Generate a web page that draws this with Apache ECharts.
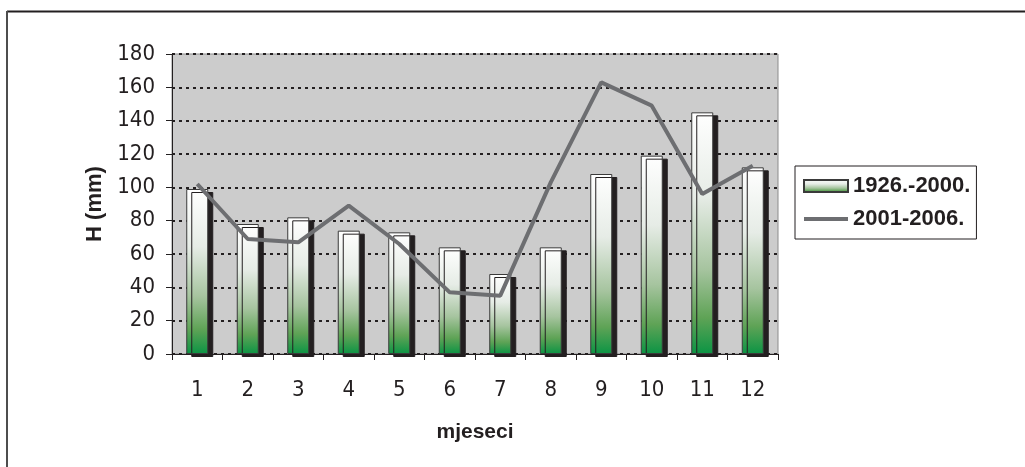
<!DOCTYPE html>
<html>
<head>
<meta charset="utf-8">
<script src="https://cdn.jsdelivr.net/npm/echarts@6/dist/echarts.min.js"></script>
<style>
html,body{margin:0;padding:0;background:#fff;}
#chart{width:1025px;height:467px;}
</style>
</head>
<body>
<div id="chart"></div>
<script>
const months = ['1','2','3','4','5','6','7','8','9','10','11','12'];
const series1926 = [99, 78, 82, 74, 73, 64, 48, 64, 108, 119, 145, 112];
const series2001 = [102, 69, 67, 89, 66, 37, 35, 103, 163, 149, 96, 113];
const yTicks = [0, 20, 40, 60, 80, 100, 120, 140, 160, 180];
const name1 = '1926.-2000.';
const name2 = '2001-2006.';

const narrow = "'Liberation Sans Narrow','Arial Narrow','DejaVu Sans Condensed',sans-serif";
const bold = "'Liberation Sans',Arial,sans-serif";

const chart = echarts.init(document.getElementById('chart'), null, {renderer: 'canvas'});
chart.setOption({
  animation: false,
  backgroundColor: '#ffffff',
  graphic: [
    {type: 'line', shape: {x1: 7, y1: 11.5, x2: 1025, y2: 11.5}, style: {stroke: '#231f20', lineWidth: 2}, z: 100},
    {type: 'line', shape: {x1: 7, y1: 11, x2: 7, y2: 467}, style: {stroke: '#4d4d4d', lineWidth: 2}, z: 100}
  ],
  grid: {
    left: 172, right: 247, top: 54, bottom: 113,
    show: true, backgroundColor: '#cccccc', borderColor: '#8c8c8c', borderWidth: 1
  },
  legend: {
    orient: 'vertical',
    left: 795, top: 166,
    padding: [9, 6, 9, 8],
    itemGap: 11,
    itemWidth: 44, itemHeight: 12,
    borderColor: '#231f20', borderWidth: 1,
    backgroundColor: '#ffffff',
    textStyle: {fontFamily: bold, fontWeight: 'bold', fontSize: 22, color: '#231f20'},
    data: [
      {name: name1, icon: 'rect'},
      {name: name2, icon: 'path://M0,4 L44,4 L44,8 L0,8 Z'}
    ]
  },
  xAxis: {
    type: 'category',
    data: months,
    name: 'mjeseci',
    nameLocation: 'middle',
    nameGap: 68,
    nameTextStyle: {fontFamily: bold, fontWeight: 'bold', fontSize: 21, color: '#231f20'},
    boundaryGap: true,
    axisLine: {lineStyle: {color: '#231f20', width: 1}},
    axisTick: {show: true, length: 6, alignWithLabel: false, lineStyle: {color: '#231f20'}},
    axisLabel: {fontFamily: narrow, fontSize: 22, color: '#231f20', margin: 25}
  },
  yAxis: {
    type: 'value',
    min: 0, max: 180, interval: 20,
    name: 'H (mm)',
    nameLocation: 'middle',
    nameGap: 64,
    nameRotate: 90,
    nameTextStyle: {fontFamily: bold, fontWeight: 'bold', fontSize: 22, color: '#231f20'},
    axisLine: {show: true, lineStyle: {color: '#231f20', width: 1}},
    axisTick: {show: true, length: 6, lineStyle: {color: '#231f20'}},
    axisLabel: {
      fontFamily: narrow, fontSize: 22, color: '#231f20', margin: 17,
      formatter: v => yTicks.includes(v) ? String(v) : ''
    },
    splitLine: {show: true, lineStyle: {color: '#231f20', width: 2, type: [3, 4]}}
  },
  series: [
    {
      name: name1,
      type: 'bar',
      data: series1926,
      barWidth: 22,
      itemStyle: {
        color: new echarts.graphic.LinearGradient(0, 0, 0, 1, [
          {offset: 0, color: '#ffffff'},
          {offset: 0.35, color: '#e6ece6'},
          {offset: 0.65, color: '#a6c49f'},
          {offset: 0.85, color: '#5fa356'},
          {offset: 1, color: '#0b9444'}
        ]),
        borderColor: '#3a3a3a',
        borderWidth: 1,
        shadowColor: '#231f20',
        shadowBlur: 0,
        shadowOffsetX: 5,
        shadowOffsetY: 3
      },
      z: 2
    },
    {
      name: name2,
      type: 'line',
      data: series2001,
      symbol: 'none',
      lineStyle: {color: '#6d6e71', width: 4},
      itemStyle: {color: '#6d6e71'},
      z: 5
    }
  ]
});
</script>
</body>
</html>
